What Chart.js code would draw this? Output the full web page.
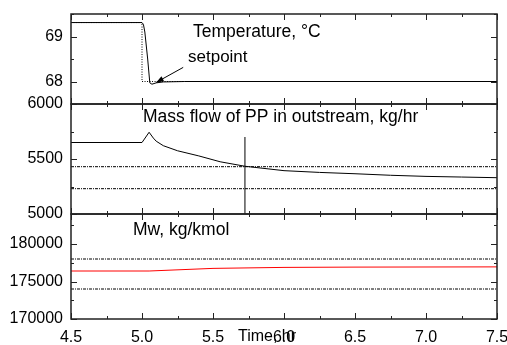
<!DOCTYPE html>
<html>
<head>
<meta charset="utf-8">
<script src="https://cdn.jsdelivr.net/npm/chart.js@4.4.0/dist/chart.umd.min.js"></script>
<style>
  html, body { margin: 0; padding: 0; background: #fff; }
  #wrap { width: 507px; height: 345px; position: relative; }
</style>
</head>
<body>
<div id="wrap"><canvas id="chart"></canvas></div>
<script>
// x axis (time, hr)
const xTicks = [4.5, 5.0, 5.5, 6.0, 6.5, 7.0, 7.5]

// top panel: reactor temperature and its setpoint
const tempTime = [4.5, 5.0, 5.01, 5.02, 5.04, 5.055, 5.07, 5.1, 5.15, 5.3, 7.5]
const tempValues = [69.31, 69.31, 69.27, 69.1, 68.5, 67.97, 67.94, 67.97, 67.99, 68.0, 68.0]
const setpointTime = [4.5, 5.0, 5.0, 7.5]
const setpointValues = [69.31, 69.31, 68.0, 68.0]
const tempTicks = [68, 69]

// middle panel: mass flow of PP in outstream
const massTime = [4.5, 5.0, 5.05, 5.08, 5.1, 5.15, 5.25, 5.4, 5.55, 5.725, 6.0, 6.25, 6.5, 6.75, 7.0, 7.25, 7.5]
const massValues = [5650, 5650, 5743, 5690, 5662, 5621, 5575, 5528, 5475, 5434, 5394, 5378, 5366, 5352, 5342, 5336, 5330]
const massLimits = [5430, 5230]
const markerTime = [5.725, 5.725]
const markerValues = [5000, 5700]
const massTicks = [5000, 5500, 6000]

// bottom panel: molecular weight
const mwTime = [4.5, 5.05, 5.5, 6.0, 6.5, 7.5]
const mwValues = [176400, 176400, 176750, 176880, 176920, 176950]
const mwLimits = [178000, 174000]
const mwTicks = [170000, 175000, 180000]

const panelTitles = ["Temperature, \u00B0C", "Mass flow of PP in outstream, kg/hr", "Mw, kg/kmol"]
const annotationText = "setpoint"
const xTitle = "Time, hr"

const FONT = '"Liberation Sans", Arial, sans-serif'

const pts = (xs, ys) => xs.map((x, i) => ({ x, y: ys[i] }))
const hline = (v) => [{ x: 4.5, y: v }, { x: 7.5, y: v }]

const lineDefaults = { pointRadius: 0, borderWidth: 1, tension: 0, fill: false }

const datasets = [
  { ...lineDefaults, data: pts(setpointTime, setpointValues), yAxisID: "yTemp", borderColor: "#000", borderDash: [1, 1.5] },
  { ...lineDefaults, data: pts(tempTime, tempValues), yAxisID: "yTemp", borderColor: "#000" },
  ...massLimits.map(v => ({ ...lineDefaults, data: hline(v), yAxisID: "yMass", borderColor: "#000", borderDash: [3, 1, 1, 1] })),
  { ...lineDefaults, data: pts(massTime, massValues), yAxisID: "yMass", borderColor: "#000" },
  { ...lineDefaults, data: pts(markerTime, markerValues), yAxisID: "yMass", borderColor: "#000" },
  ...mwLimits.map(v => ({ ...lineDefaults, data: hline(v), yAxisID: "yMw", borderColor: "#000", borderDash: [3, 1, 1, 1] })),
  { ...lineDefaults, data: pts(mwTime, mwValues), yAxisID: "yMw", borderColor: "#ff0000" },
]

// minor tick = midpoint of neighbouring major ticks
const midpoints = (arr) => arr.slice(1).map((v, i) => (v + arr[i]) / 2)

const panels = [
  { id: "yTemp", major: tempTicks, minor: [67.5, 68.5, 69.5] },
  { id: "yMass", major: massTicks, minor: midpoints(massTicks) },
  { id: "yMw", major: mwTicks, minor: [172500, 177500, 182500] },
]

const panelFrames = {
  id: "panelFrames",
  afterDatasetsDraw(chart) {
    const { ctx, chartArea, scales } = chart
    const xs = scales.x
    const L = chartArea.left, R = chartArea.right
    const xMinor = midpoints(xTicks)
    ctx.save()
    ctx.strokeStyle = "#222"
    panels.forEach(p => {
      const s = scales[p.id]
      ctx.lineWidth = 1.5
      ctx.strokeRect(L, s.top, R - L, s.bottom - s.top)
      ctx.lineWidth = 1
      ctx.beginPath()
      const xt = (v, len) => {
        const px = Math.round(xs.getPixelForValue(v)) + 0.5
        ctx.moveTo(px, s.top); ctx.lineTo(px, s.top + len)
        ctx.moveTo(px, s.bottom); ctx.lineTo(px, s.bottom - len)
      }
      xTicks.forEach(v => xt(v, 6))
      xMinor.forEach(v => xt(v, 3))
      const yt = (v, len) => {
        const py = Math.round(s.getPixelForValue(v)) + 0.5
        ctx.moveTo(L, py); ctx.lineTo(L + len, py)
        ctx.moveTo(R, py); ctx.lineTo(R - len, py)
      }
      p.major.forEach(v => yt(v, 6))
      p.minor.forEach(v => yt(v, 3))
      ctx.stroke()
    })

    // texts
    ctx.fillStyle = "#000"
    ctx.textBaseline = "middle"
    ctx.textAlign = "left"
    ctx.font = "17.5px " + FONT
    ctx.fillText(panelTitles[0], 193, 32)
    ctx.fillText(panelTitles[1], 143, 117)
    ctx.fillText(panelTitles[2], 133, 230)
    ctx.font = "17px " + FONT
    ctx.fillText(annotationText, 188, 57)
    ctx.font = "16px " + FONT
    ctx.fillText(xTitle, 238, 337)

    // arrow pointing at the temperature undershoot
    const tipX = xs.getPixelForValue(5.1)
    const tipY = scales.yTemp.getPixelForValue(67.98)
    const tailX = tipX + 27, tailY = tipY - 15
    ctx.strokeStyle = "#000"
    ctx.lineWidth = 1
    ctx.beginPath()
    ctx.moveTo(tailX, tailY); ctx.lineTo(tipX, tipY)
    ctx.stroke()
    const ang = Math.atan2(tipY - tailY, tipX - tailX)
    ctx.beginPath()
    ctx.moveTo(tipX, tipY)
    ctx.lineTo(tipX - 8 * Math.cos(ang - 0.35), tipY - 8 * Math.sin(ang - 0.35))
    ctx.lineTo(tipX - 8 * Math.cos(ang + 0.35), tipY - 8 * Math.sin(ang + 0.35))
    ctx.closePath()
    ctx.fill()
    ctx.restore()
  }
}

const yAxis = (min, max, ticks, weight) => ({
  type: "linear",
  position: "left",
  stack: "panels",
  stackWeight: weight,
  min, max,
  afterBuildTicks: (scale) => { scale.ticks = ticks.map(v => ({ value: v })) },
  afterFit: (scale) => {
    scale.width = 71
    scale.paddingTop = 0
    scale.paddingBottom = 0
  },
  grid: { display: false, drawTicks: false },
  border: { display: false },
  ticks: { autoSkip: false, padding: 8, color: "#000", font: { size: 16, family: FONT }, callback: v => String(v) },
})

new Chart(document.getElementById("chart"), {
  type: "line",
  data: { datasets },
  options: {
    responsive: true,
    maintainAspectRatio: false,
    animation: false,
    devicePixelRatio: 1,
    layout: { padding: { top: 14, left: 0, right: 10, bottom: 0 } },
    plugins: { legend: { display: false }, tooltip: { enabled: false } },
    scales: {
      x: {
        type: "linear",
        min: 4.5, max: 7.5,
        afterBuildTicks: (scale) => { scale.ticks = xTicks.map(v => ({ value: v })) },
        afterFit: (scale) => {
          scale.height = 26
          scale.paddingLeft = 0
          scale.paddingRight = 0
        },
        grid: { display: false, drawTicks: false },
        border: { display: false },
        ticks: { autoSkip: false, maxRotation: 0, padding: 9, color: "#000", font: { size: 16, family: FONT }, callback: v => v.toFixed(1) },
      },
      yMw: yAxis(170000, 184000, mwTicks, 105),
      yMass: yAxis(5000, 6000, massTicks, 110),
      yTemp: yAxis(67.5, 69.5, tempTicks, 90),
    },
  },
  plugins: [panelFrames],
})
</script>
</body>
</html>
